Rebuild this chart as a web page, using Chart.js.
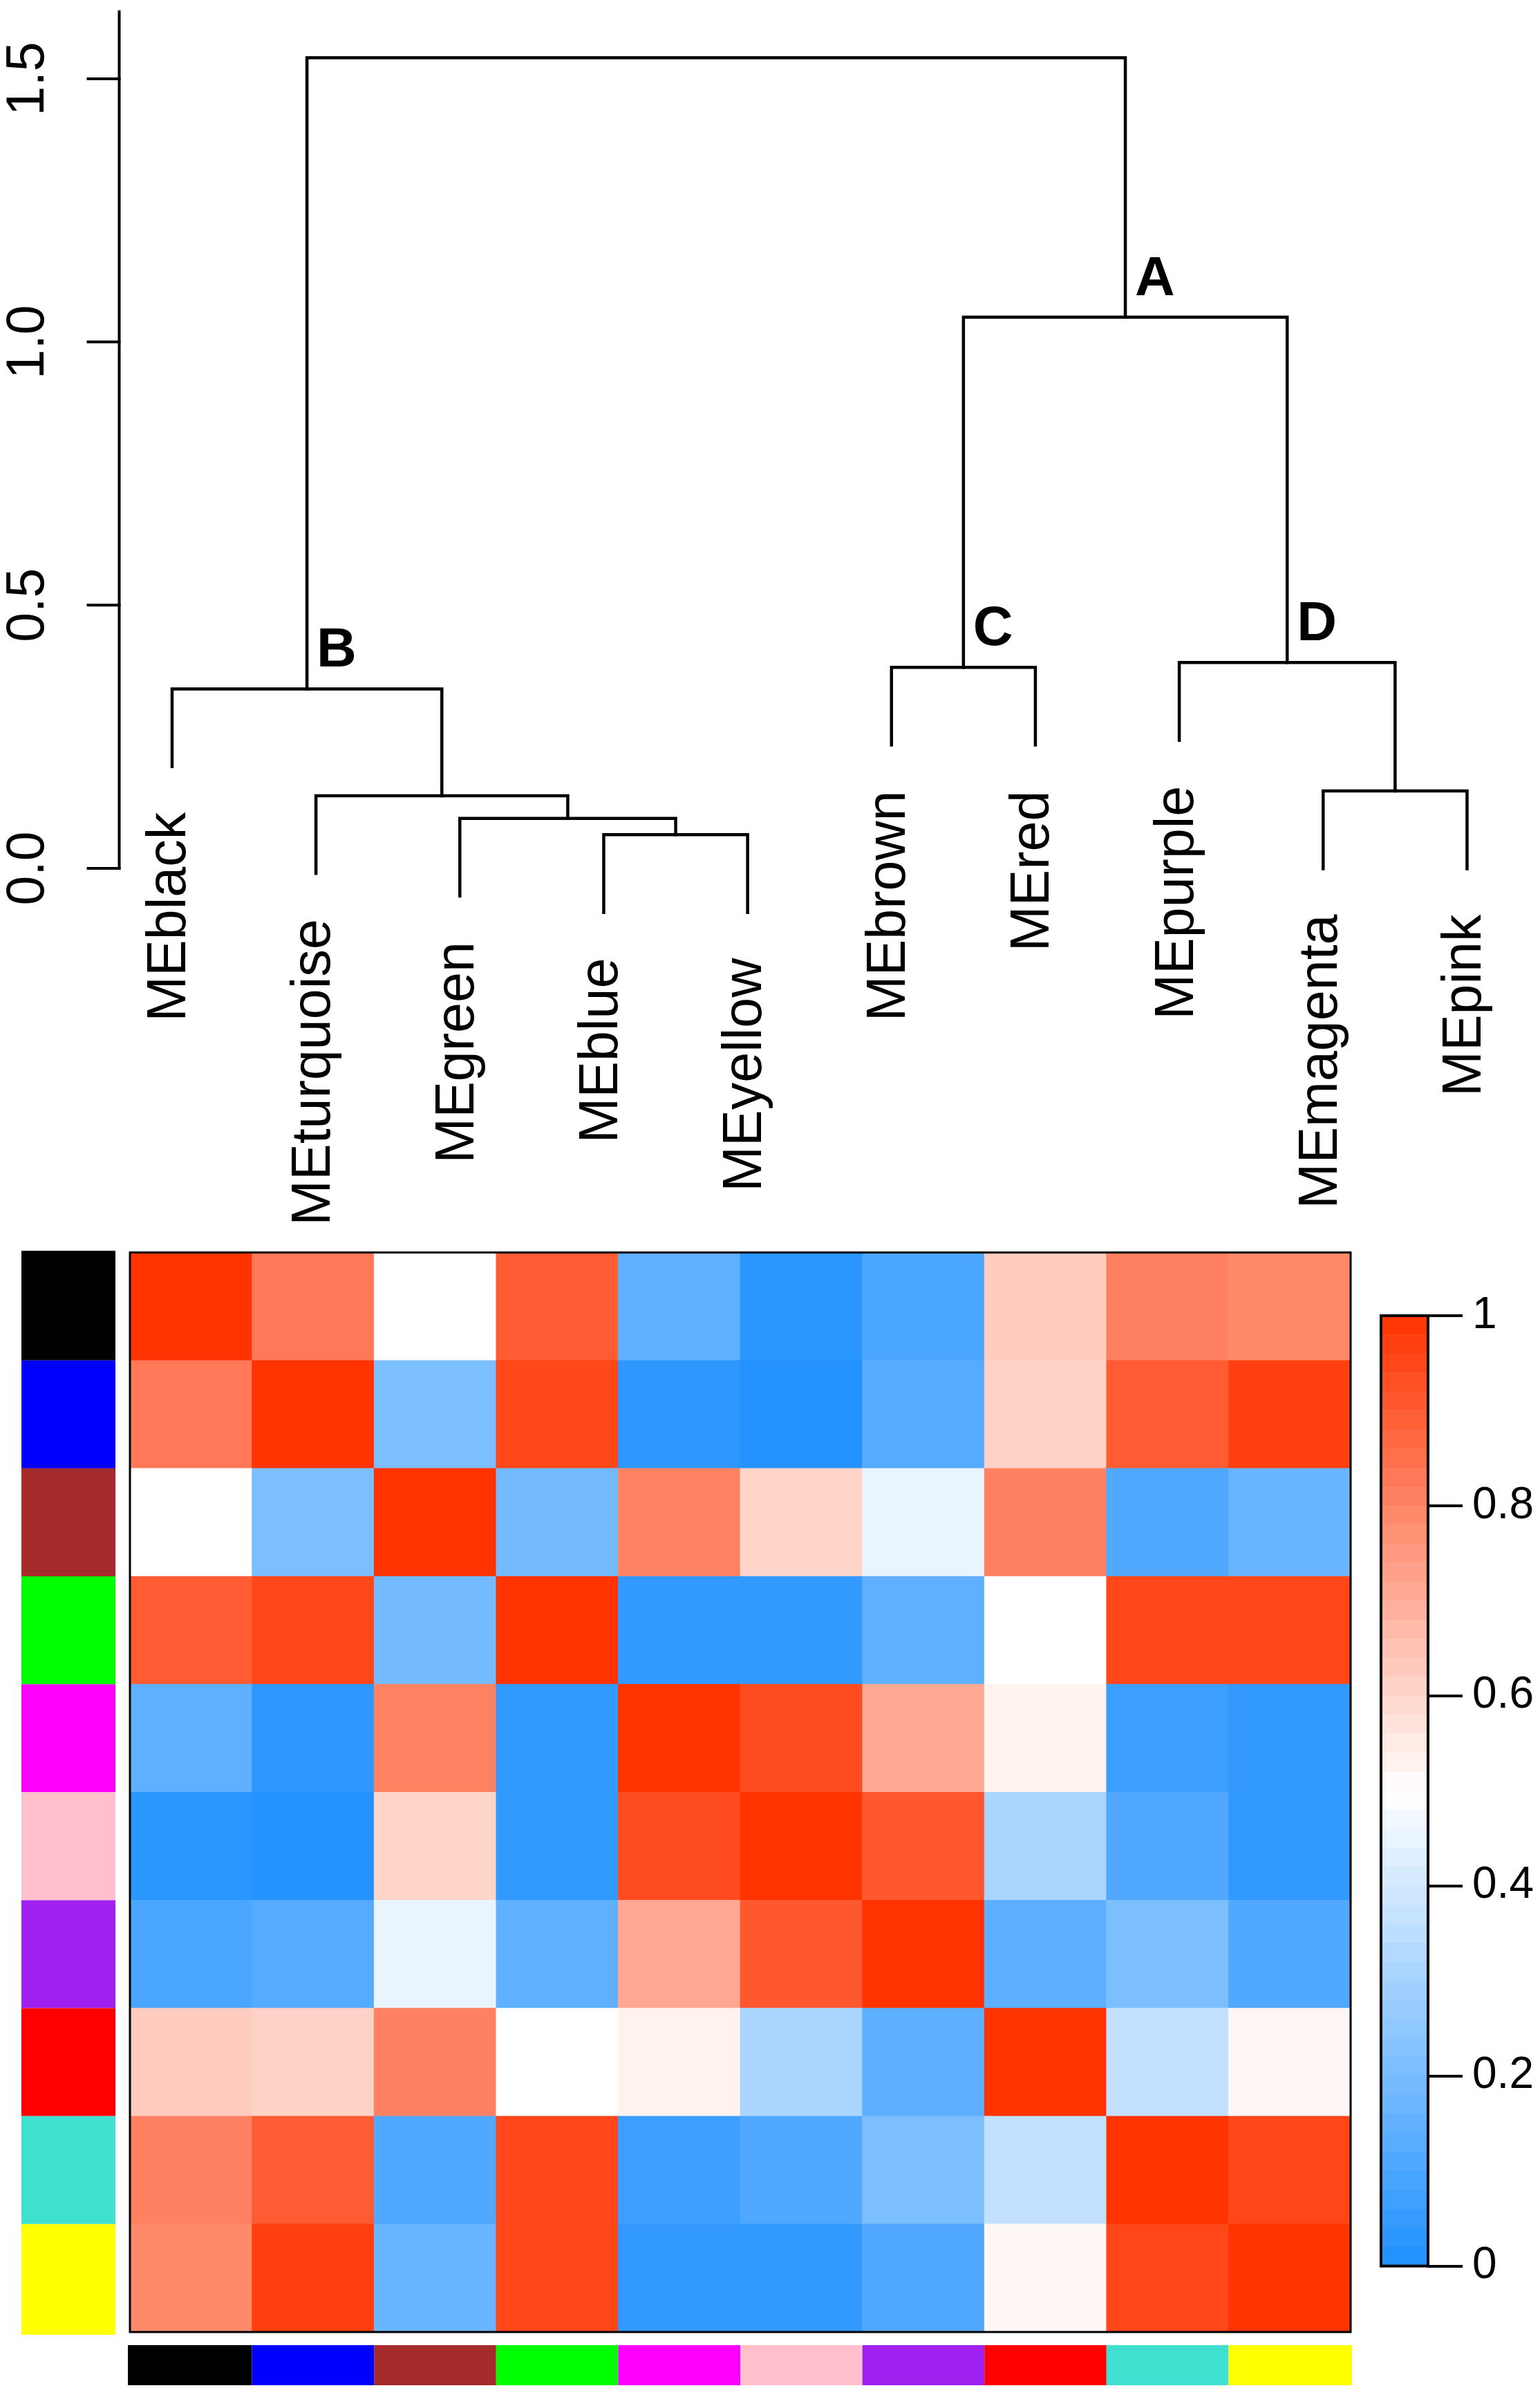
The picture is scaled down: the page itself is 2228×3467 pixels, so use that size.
<!DOCTYPE html>
<html><head><meta charset="utf-8">
<script src="https://cdn.jsdelivr.net/npm/chart.js@4.4.1/dist/chart.umd.min.js"></script>
<style>
html,body{margin:0;padding:0;background:#fff;}
body{width:2228px;height:3467px;position:relative;overflow:hidden;}
canvas{position:absolute;}
</style></head><body>
<canvas id="dendro" width="2228" height="1790" style="left:0;top:0;width:2228px;height:1790px"></canvas>
<canvas id="heat" width="1990" height="1677" style="left:0;top:1790px;width:1990px;height:1677px"></canvas>
<canvas id="cbar" width="238" height="1480" style="left:1990px;top:1850px;width:238px;height:1480px"></canvas>
<script>
// ---------------- data ----------------
const leafLabels = ['MEblack','MEturquoise','MEgreen','MEblue','MEyellow','MEbrown','MEred','MEpurple','MEmagenta','MEpink'];
// R hclust style merges: negative = leaf (position in leafLabels, 1-based), positive = earlier merge
const mergeLeft    = [-4, -3, -2, -9, -1, -6, -8, 6, 5];
const mergeRight   = [-5,  1,  2, -10, 3, -7,  4, 7, 8];
const mergeHeights = [0.064, 0.095, 0.138, 0.147, 0.341, 0.382, 0.391, 1.047, 1.54];
const mergeLetters = ['', '', '', '', 'B', 'C', 'D', 'A', ''];
const heightTicks = [0, 0.5, 1.0, 1.5];
const heightTickLabels = ['0.0', '0.5', '1.0', '1.5'];
const axisTopValue = 1.63;

const moduleNames  = ['black','blue','brown','green','magenta','pink','purple','red','turquoise','yellow'];
const moduleColors = ['#000000','#0000FF','#A52A2A','#00FF00','#FF00FF','#FFC0CB','#A020F0','#FF0000','#40E0D0','#FFFF00'];

const rowBlack     = [1.00, 0.83, 0.50, 0.90, 0.145, 0.027, 0.10, 0.625, 0.81, 0.79];
const rowBlue      = [0.83, 1.00, 0.21, 0.95, 0.035, 0.010, 0.12, 0.61, 0.90, 0.97];
const rowBrown     = [0.50, 0.21, 1.00, 0.19, 0.805, 0.605, 0.45, 0.81, 0.11, 0.167];
const rowGreen     = [0.90, 0.95, 0.19, 1.00, 0.045, 0.045, 0.145, 0.50, 0.95, 0.95];
const rowMagenta   = [0.145, 0.035, 0.805, 0.045, 1.00, 0.94, 0.71, 0.53, 0.067, 0.045];
const rowPink      = [0.027, 0.010, 0.605, 0.045, 0.94, 1.00, 0.91, 0.31, 0.11, 0.045];
const rowPurple    = [0.10, 0.12, 0.45, 0.145, 0.71, 0.91, 1.00, 0.14, 0.21, 0.11];
const rowRed       = [0.625, 0.61, 0.81, 0.50, 0.53, 0.31, 0.14, 1.00, 0.367, 0.52];
const rowTurquoise = [0.81, 0.90, 0.11, 0.95, 0.067, 0.11, 0.21, 0.367, 1.00, 0.95];
const rowYellow    = [0.79, 0.97, 0.167, 0.95, 0.045, 0.045, 0.11, 0.52, 0.95, 1.00];
const heatRows = [rowBlack, rowBlue, rowBrown, rowGreen, rowMagenta, rowPink, rowPurple, rowRed, rowTurquoise, rowYellow];

const colorbarTicks = [0, 0.2, 0.4, 0.6, 0.8, 1];
const colorbarTickLabels = ['0', '0.2', '0.4', '0.6', '0.8', '1'];
const colorbarSteps = 50;

// ---------------- helpers ----------------
const FONT = "'Liberation Sans', Arial, Helvetica, sans-serif";
const LOW = [30, 144, 255], HIGH = [255, 51, 0];
function colorFor(v) {
  let r, g, b;
  if (v < 0.5) {
    const t = (0.5 - v) / 0.5;
    r = 255 + t * (LOW[0] - 255); g = 255 + t * (LOW[1] - 255); b = 255 + t * (LOW[2] - 255);
  } else {
    const t = (v - 0.5) / 0.5;
    r = 255 + t * (HIGH[0] - 255); g = 255 + t * (HIGH[1] - 255); b = 255 + t * (HIGH[2] - 255);
  }
  return `rgb(${Math.round(r)},${Math.round(g)},${Math.round(b)})`;
}

// ---------------- dendrogram ----------------
const maxH = Math.max(...mergeHeights), minH = Math.min(...mergeHeights);
const hang = 0.1 * (maxH - minH);
const nodeX = [];
const leafEnd = new Array(leafLabels.length).fill(0);
function childX(c) { return c < 0 ? -c : nodeX[c - 1]; }
const dendroDatasets = [];
for (let m = 0; m < mergeHeights.length; m++) {
  const l = mergeLeft[m], r = mergeRight[m], h = mergeHeights[m];
  const xl = childX(l), xr = childX(r);
  nodeX.push((xl + xr) / 2);
  const yl = l < 0 ? h - hang : mergeHeights[l - 1];
  const yr = r < 0 ? h - hang : mergeHeights[r - 1];
  if (l < 0) leafEnd[-l - 1] = yl;
  if (r < 0) leafEnd[-r - 1] = yr;
  dendroDatasets.push({
    data: [{x: xl, y: yl}, {x: xl, y: h}, {x: xr, y: h}, {x: xr, y: yr}],
    borderColor: '#000', borderWidth: 4.5, pointRadius: 0, showLine: true,
    tension: 0, fill: false, borderJoinStyle: 'miter', borderCapStyle: 'square'
  });
}

const dendroDecor = {
  id: 'dendroDecor',
  afterDatasetsDraw(chart) {
    const {ctx, scales: {x, y}} = chart;
    ctx.save();
    ctx.strokeStyle = '#000'; ctx.fillStyle = '#000'; ctx.lineWidth = 4;
    const ax = chart.chartArea.left - 1.5;
    ctx.beginPath();
    ctx.moveTo(ax, y.getPixelForValue(axisTopValue));
    ctx.lineTo(ax, y.getPixelForValue(0) + 2);
    ctx.stroke();
    heightTicks.forEach((t, i) => {
      const py = y.getPixelForValue(t);
      ctx.beginPath(); ctx.moveTo(ax - 47, py); ctx.lineTo(ax + 2, py); ctx.stroke();
      ctx.save();
      ctx.translate(ax - 110, py); ctx.rotate(-Math.PI / 2);
      ctx.font = '77px ' + FONT; ctx.textAlign = 'center'; ctx.textBaseline = 'alphabetic';
      ctx.fillText(heightTickLabels[i], 0, 0);
      ctx.restore();
    });
    leafLabels.forEach((lab, i) => {
      const px = x.getPixelForValue(i + 1);
      const py = y.getPixelForValue(leafEnd[i]) + 66;
      ctx.save();
      ctx.translate(px + 19.5, py); ctx.rotate(-Math.PI / 2);
      ctx.font = '79px ' + FONT; ctx.textAlign = 'right'; ctx.textBaseline = 'alphabetic';
      ctx.fillText(lab, 0, 0);
      ctx.restore();
    });
    mergeLetters.forEach((letter, m) => {
      if (!letter) return;
      const px = x.getPixelForValue(nodeX[m]) + 14;
      const py = y.getPixelForValue(mergeHeights[m]) - 32;
      ctx.font = 'bold 80px ' + FONT; ctx.textAlign = 'left'; ctx.textBaseline = 'alphabetic';
      ctx.fillText(letter, px, py);
    });
    ctx.restore();
  }
};

new Chart(document.getElementById('dendro'), {
  type: 'scatter',
  data: {datasets: dendroDatasets},
  options: {
    responsive: false, animation: false, devicePixelRatio: 1,
    layout: {padding: {left: 174, right: 30.6, top: 7.3, bottom: 442.6}},
    plugins: {legend: {display: false}, tooltip: {enabled: false}},
    scales: {
      x: {type: 'linear', min: 0.64, max: 10.36, display: false},
      y: {type: 'linear', min: -0.12, max: 1.64, display: false}
    }
  },
  plugins: [dendroDecor]
});

// ---------------- heatmap ----------------
const heatDatasets = [];
for (let r = heatRows.length - 1; r >= 0; r--) {
  heatDatasets.push({
    label: moduleNames[r],
    data: heatRows[r].map(() => 1),
    backgroundColor: heatRows[r].map(colorFor),
    borderWidth: 0, barPercentage: 1, categoryPercentage: 1
  });
}
const heatDecor = {
  id: 'heatDecor',
  afterDatasetsDraw(chart) {
    const {ctx, chartArea: a, scales: {x, y}} = chart;
    ctx.save();
    const n = moduleNames.length;
    const cw = a.width / n;
    moduleColors.forEach((c, i) => {
      const top = y.getPixelForValue(n - i), bot = y.getPixelForValue(n - i - 1);
      ctx.fillStyle = c;
      ctx.fillRect(31, top - (i === 0 ? 2.5 : 0), 136, bot - top + (i === 0 ? 2.5 : 0) + (i === n - 1 ? 4 : 0));
      const cx = x.getPixelForValue(i);
      ctx.fillRect(cx - cw / 2 - (i === 0 ? 3 : 0), 1602, cw + (i === n - 1 ? 2 : 0) + (i === 0 ? 3 : 0), 58);
    });
    ctx.strokeStyle = '#000'; ctx.lineWidth = 3;
    ctx.strokeRect(a.left, a.top, a.width, a.height);
    ctx.restore();
  }
};
new Chart(document.getElementById('heat'), {
  type: 'bar',
  data: {labels: moduleNames, datasets: heatDatasets},
  options: {
    responsive: false, animation: false, devicePixelRatio: 1,
    layout: {padding: {left: 188, right: 36, top: 21.6, bottom: 94}},
    plugins: {legend: {display: false}, tooltip: {enabled: false}},
    scales: {
      x: {type: 'category', stacked: true, display: false},
      y: {type: 'linear', stacked: true, min: 0, max: 10, display: false}
    }
  },
  plugins: [heatDecor]
});

// ---------------- colour bar ----------------
const cbDatasets = [];
for (let i = 0; i < colorbarSteps; i++) {
  cbDatasets.push({
    data: [1 / colorbarSteps],
    backgroundColor: colorFor((i + 0.5) / colorbarSteps),
    borderWidth: 0, barPercentage: 1, categoryPercentage: 1
  });
}
const cbDecor = {
  id: 'cbDecor',
  afterDatasetsDraw(chart) {
    const {ctx, chartArea: a} = chart;
    ctx.save();
    ctx.strokeStyle = '#000'; ctx.lineWidth = 4;
    ctx.strokeRect(a.left, a.top, a.width, a.height);
    ctx.restore();
  }
};
new Chart(document.getElementById('cbar'), {
  type: 'bar',
  data: {labels: [''], datasets: cbDatasets},
  options: {
    responsive: false, animation: false, devicePixelRatio: 1,
    layout: {padding: {left: 8, right: 0, top: 53, bottom: 50}},
    plugins: {legend: {display: false}, tooltip: {enabled: false}},
    scales: {
      x: {type: 'category', stacked: true, display: false},
      y: {
        type: 'linear', position: 'right', stacked: true, min: 0, max: 1,
        afterBuildTicks: (s) => { s.ticks = colorbarTicks.map(v => ({value: v})); },
        afterFit: (s) => { s.width = 162; },
        grid: {display: true, drawOnChartArea: false, drawTicks: true, tickLength: 50, color: '#000', lineWidth: 4},
        border: {display: true, color: '#000', width: 4},
        ticks: {
          font: {size: 64, family: FONT}, color: '#000', padding: 14,
          callback: (v, i) => colorbarTickLabels[i]
        }
      }
    }
  },
  plugins: [cbDecor]
});
</script>
</body></html>
